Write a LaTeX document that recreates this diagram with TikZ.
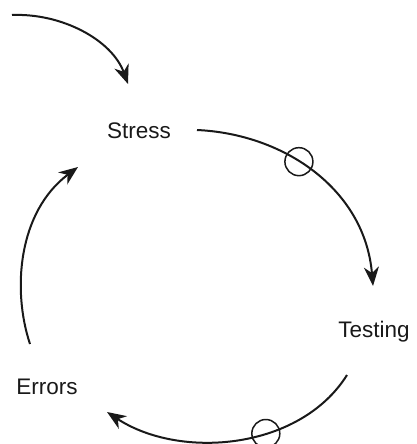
\documentclass[tikz,border=0pt]{standalone}
\usepackage{fontspec}
\setmainfont{Liberation Sans}
\usetikzlibrary{arrows.meta}
\begin{document}
\begin{tikzpicture}[x=1pt,y=-1pt,
  label/.style={font=\fontsize{22.5}{26}\selectfont, text=black!90, inner sep=0pt},
  flow/.style={line width=2pt, draw=black!90, -{Stealth[length=19pt,width=15pt,inset=6pt]}},
  sink/.style={circle, draw=black!90, line width=1.5pt, minimum size=28pt, inner sep=0pt}]
  \useasboundingbox (0,0) rectangle (416,444);

  % variables
  \node[label] (stress)  at (139,131) {Stress};
  \node[label] (testing) at (374,332) {Testing};
  \node[label] (errors)  at (47,387)  {Errors};

  % connector end points
  \coordinate (src) at (12,15);
  \coordinate (stressIn) at (128,84);
  \coordinate (stressOut) at (197,130);
  \coordinate (testingIn) at (373,286);
  \coordinate (testingOut) at (347,375);
  \coordinate (errorsIn) at (107,412);
  \coordinate (errorsOut) at (30,344);
  \coordinate (stressIn2) at (78,167);

  % links
  \draw[flow] (src) .. controls (62,13) and (112,40) .. (stressIn);
  \draw[flow] (stressOut) .. controls (285,134) and (365,190) .. (testingIn)
    node[sink, pos=0.42] (c1) {};
  \draw[flow] (testingOut) .. controls (300,450) and (180,460) .. (errorsIn)
    node[sink, pos=0.39] (c2) {};
  \draw[flow] (errorsOut) .. controls (12,290) and (18,212) .. (stressIn2);
\end{tikzpicture}
\end{document}
